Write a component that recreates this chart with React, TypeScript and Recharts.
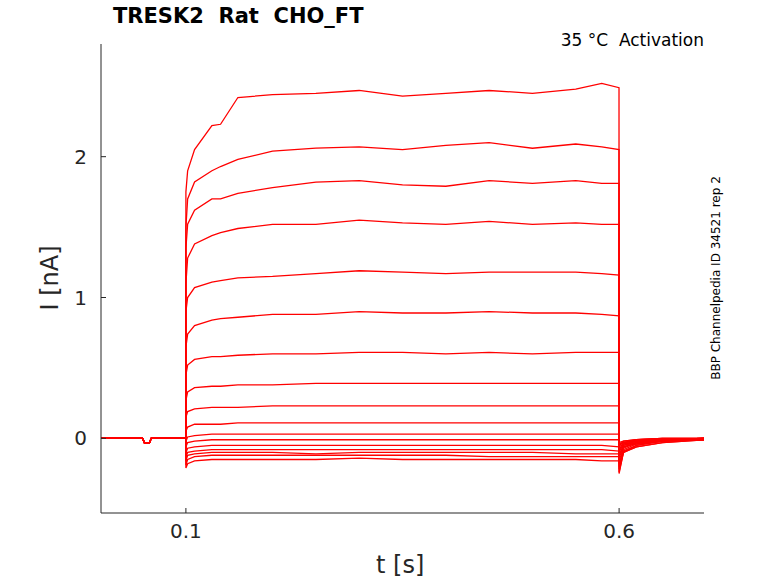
import React from "react";
import { LineChart, Line, XAxis, YAxis } from "recharts";

// time points (s)
const times = [
  0.002, 0.05, 0.052, 0.058, 0.06, 0.0999, 0.1, 0.102, 0.11, 0.13, 0.14, 0.16,
  0.2, 0.25, 0.3, 0.35, 0.4, 0.45, 0.5, 0.55, 0.58, 0.5999, 0.6, 0.605, 0.62,
  0.65, 0.698,
];
const preValues = [0, 0, -0.03, -0.03, 0, 0];

// current during the pulse (nA), 0.1 .. 0.5999
const pulse = [
  [1.75, 1.9, 2.05, 2.22, 2.23, 2.42, 2.44, 2.45, 2.47, 2.43, 2.45, 2.47, 2.45, 2.48, 2.52, 2.49],
  [1.5, 1.7, 1.82, 1.9, 1.93, 1.98, 2.04, 2.06, 2.07, 2.05, 2.08, 2.1, 2.06, 2.09, 2.07, 2.05],
  [1.35, 1.52, 1.62, 1.7, 1.7, 1.74, 1.78, 1.82, 1.83, 1.8, 1.79, 1.83, 1.81, 1.83, 1.81, 1.81],
  [1.1, 1.28, 1.38, 1.44, 1.46, 1.49, 1.52, 1.52, 1.55, 1.53, 1.52, 1.54, 1.52, 1.53, 1.52, 1.52],
  [0.9, 1.0, 1.07, 1.11, 1.12, 1.14, 1.15, 1.17, 1.19, 1.18, 1.17, 1.18, 1.18, 1.18, 1.17, 1.16],
  [0.65, 0.74, 0.8, 0.84, 0.85, 0.86, 0.88, 0.88, 0.9, 0.89, 0.89, 0.9, 0.89, 0.89, 0.88, 0.87],
  [0.45, 0.52, 0.56, 0.58, 0.58, 0.59, 0.6, 0.6, 0.61, 0.61, 0.6, 0.61, 0.6, 0.61, 0.61, 0.61],
  [0.27, 0.33, 0.36, 0.37, 0.37, 0.38, 0.38, 0.39, 0.39, 0.39, 0.39, 0.39, 0.39, 0.39, 0.39, 0.39],
  [0.15, 0.19, 0.21, 0.22, 0.22, 0.22, 0.23, 0.23, 0.23, 0.23, 0.23, 0.23, 0.23, 0.23, 0.23, 0.23],
  [0.05, 0.08, 0.1, 0.1, 0.1, 0.11, 0.11, 0.11, 0.11, 0.11, 0.11, 0.11, 0.11, 0.11, 0.11, 0.11],
  [-0.02, 0.01, 0.02, 0.03, 0.03, 0.03, 0.03, 0.03, 0.03, 0.03, 0.03, 0.03, 0.03, 0.03, 0.03, 0.03],
  [-0.06, -0.03, -0.02, -0.01, -0.01, -0.01, -0.01, -0.01, -0.01, -0.01, -0.01, -0.01, -0.01, -0.01, -0.01, -0.01],
  [-0.1, -0.07, -0.06, -0.05, -0.05, -0.05, -0.05, -0.05, -0.05, -0.05, -0.05, -0.05, -0.05, -0.05, -0.05, -0.06],
  [-0.13, -0.1, -0.09, -0.08, -0.08, -0.08, -0.08, -0.08, -0.08, -0.08, -0.08, -0.08, -0.08, -0.08, -0.08, -0.09],
  [-0.16, -0.12, -0.11, -0.1, -0.1, -0.1, -0.1, -0.11, -0.1, -0.1, -0.1, -0.1, -0.1, -0.11, -0.11, -0.11],
  [-0.19, -0.15, -0.13, -0.12, -0.12, -0.12, -0.12, -0.12, -0.12, -0.12, -0.12, -0.13, -0.13, -0.13, -0.13, -0.13],
  [-0.21, -0.18, -0.16, -0.15, -0.15, -0.15, -0.15, -0.15, -0.14, -0.15, -0.15, -0.15, -0.15, -0.15, -0.16, -0.16],
];

// tail after the pulse, 0.6 .. 0.698
const tails = [
  [-0.05, -0.02, -0.01, 0, 0],
  [-0.08, -0.03, -0.01, 0, 0],
  [-0.1, -0.04, -0.02, -0.01, 0],
  [-0.12, -0.05, -0.02, -0.01, 0],
  [-0.14, -0.06, -0.03, -0.01, 0],
  [-0.16, -0.07, -0.03, -0.01, 0],
  [-0.18, -0.08, -0.04, -0.02, 0],
  [-0.2, -0.09, -0.05, -0.02, -0.01],
  [-0.22, -0.1, -0.05, -0.02, -0.01],
  [-0.24, -0.1, -0.06, -0.03, -0.01],
  [-0.25, -0.1, -0.06, -0.03, -0.01],
  [-0.12, -0.06, -0.04, -0.02, -0.01],
  [-0.08, -0.05, -0.03, -0.02, 0],
  [-0.06, -0.04, -0.03, -0.01, 0],
  [-0.05, -0.03, -0.02, -0.01, 0],
  [-0.04, -0.03, -0.02, -0.01, 0],
  [-0.03, -0.02, -0.01, 0, 0],
];

const xTicks = [0.1, 0.6];
const yTicks = [0, 1, 2];

const data = times.map((t, i) => {
  const row: Record<string, number> = { t };
  pulse.forEach((p, k) => {
    row["s" + k] = i < 6 ? preValues[i] : i < 22 ? p[i - 6] : tails[k][i - 22];
  });
  return row;
});

const font = "'DejaVu Sans', sans-serif";

export default function App() {
  return (
    <div style={{ position: "absolute", left: 0, top: 0, width: 778, height: 583, background: "#fff", fontFamily: font }}>
      <LineChart width={778} height={583} data={data} margin={{ top: 44, right: 74, bottom: 40, left: 51 }}>
        <XAxis
          dataKey="t"
          type="number"
          domain={[0.002, 0.698]}
          ticks={xTicks}
          height={30}
          stroke="#262626"
          tickSize={-5}
          tick={{ fontSize: 20, fill: "#262626", fontFamily: font, dy: 14 }}
          allowDataOverflow
        />
        <YAxis
          type="number"
          domain={[-0.53, 2.8]}
          ticks={yTicks}
          width={50}
          stroke="#262626"
          tickSize={-5}
          tick={{ fontSize: 20, fill: "#262626", fontFamily: font, dx: -17 }}
          allowDataOverflow
        />
        {pulse.map((_, k) => (
          <Line key={k} dataKey={"s" + k} stroke="#ff0000" strokeWidth={1.3} dot={false} type="linear" isAnimationActive={false} />
        ))}
      </LineChart>
      <div style={{ position: "absolute", left: 113, top: 4, fontSize: 21, fontWeight: "bold", color: "#000" }}>TRESK2&nbsp; Rat&nbsp; CHO_FT</div>
      <div style={{ position: "absolute", right: 74, top: 30, fontSize: 17, color: "#000" }}>35 °C&nbsp; Activation</div>
      <div style={{ position: "absolute", left: 376, top: 551, fontSize: 24, color: "#262626" }}>t [s]</div>
      <div style={{ position: "absolute", left: 50, top: 278, fontSize: 24, color: "#262626", transform: "translate(-50%,-50%) rotate(-90deg)", whiteSpace: "nowrap" }}>I [nA]</div>
      <div style={{ position: "absolute", left: 716, top: 278, fontSize: 12, color: "#000", transform: "translate(-50%,-50%) rotate(-90deg)", whiteSpace: "nowrap" }}>BBP Channelpedia ID 34521 rep 2</div>
    </div>
  );
}
